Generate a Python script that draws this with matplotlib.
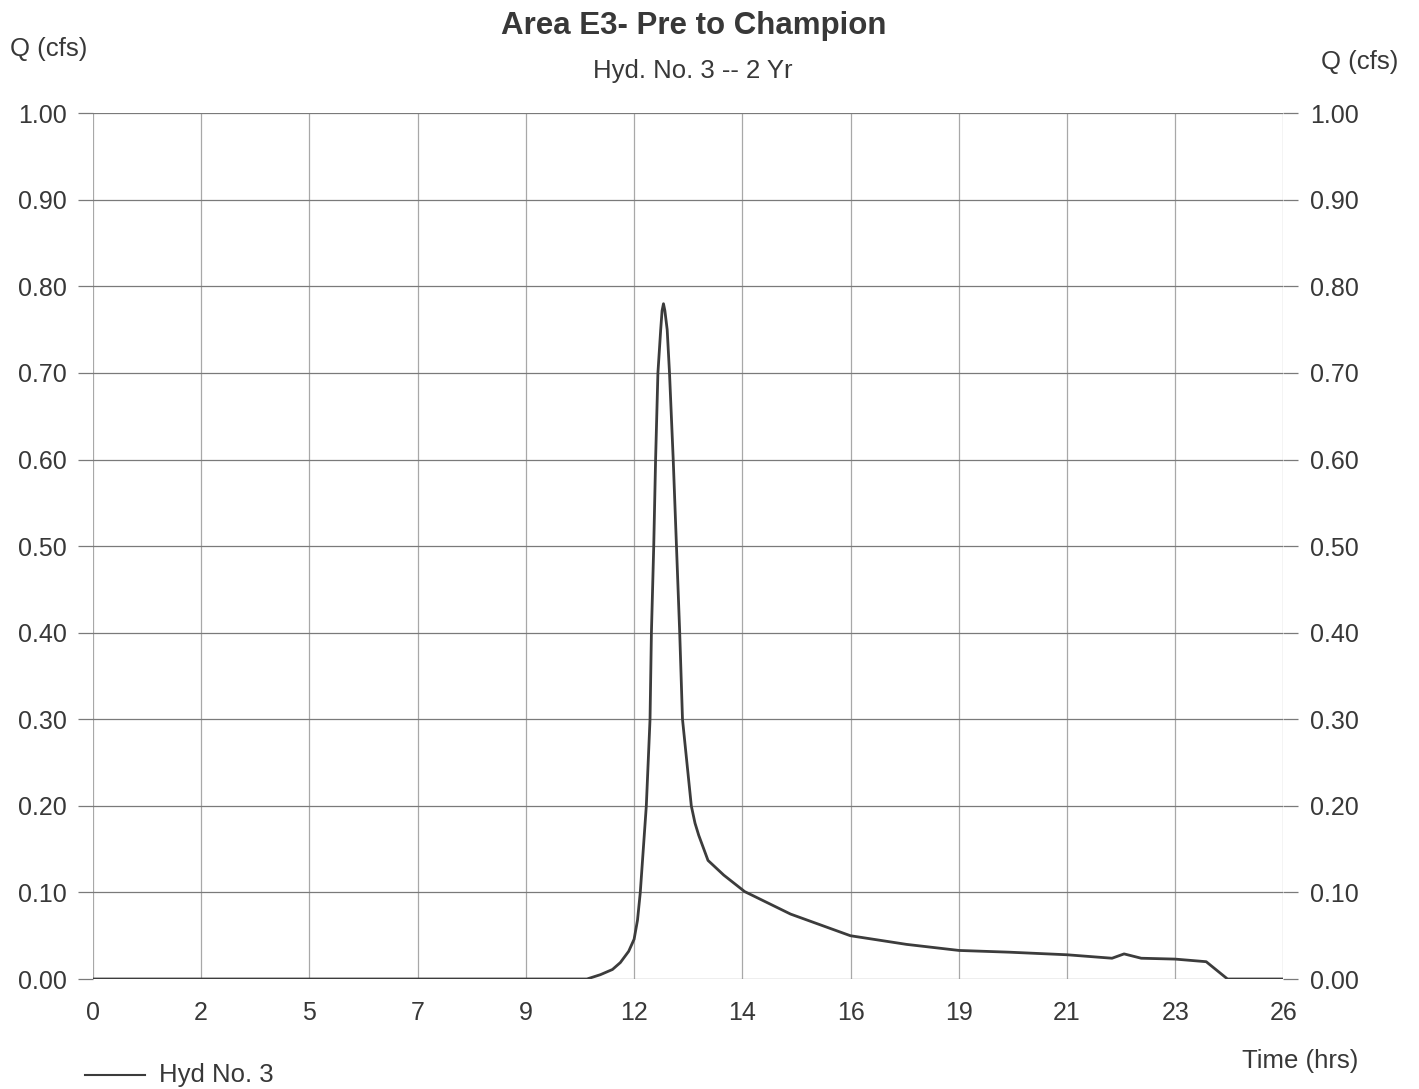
import matplotlib
matplotlib.use("Agg")
import matplotlib.pyplot as plt
from matplotlib.lines import Line2D

plt.rcParams["font.family"] = ["Liberation Sans", "DejaVu Sans"]

# hydrograph (hours, cfs)
time_hrs = [0.0, 10.65, 10.94, 11.2, 11.37, 11.55, 11.667, 11.74, 11.80,
            11.93, 12.01, 12.04, 12.09, 12.13, 12.18, 12.24, 12.27, 12.30,
            12.33, 12.38, 12.43, 12.51, 12.58, 12.65, 12.71, 12.90, 12.98,
            13.06, 13.26, 13.6, 14.05, 15.04, 16.33, 17.54, 18.67, 19.75,
            21.0, 21.97, 22.23, 22.6, 23.33, 24.0, 24.46, 25.67]
flow_cfs = [0.0, 0.0, 0.005, 0.011, 0.019, 0.032, 0.046, 0.068, 0.1,
            0.2, 0.3, 0.4, 0.5, 0.6, 0.7, 0.75, 0.772, 0.78,
            0.772, 0.75, 0.7, 0.6, 0.5, 0.4, 0.3, 0.2, 0.18,
            0.166, 0.137, 0.12, 0.101, 0.075, 0.05, 0.04, 0.033, 0.031,
            0.028, 0.024, 0.029, 0.024, 0.023, 0.02, 0.0, 0.0]

x_labels = ["0", "2", "5", "7", "9", "12", "14", "16", "19", "21", "23", "26"]
x_step = 7 / 3  # hrs between grid lines
y_ticks = [0.0, 0.1, 0.2, 0.3, 0.4, 0.5, 0.6, 0.7, 0.8, 0.9, 1.0]

GRID_H = "#7a7a7a"
GRID_V = "#a8a8a8"
LINE = "#3c3c3c"
TXT = "#383838"

fig = plt.figure(figsize=(14.19, 10.89), dpi=100)
ax = fig.add_axes([0.0655, 0.101, 0.839, 0.795])

ax.plot(time_hrs, flow_cfs, color=LINE, linewidth=2.0, zorder=3)

xt = [i * x_step for i in range(len(x_labels))]
ax.set_xlim(xt[0], xt[-1])
ax.set_ylim(0, 1.0)
ax.set_xticks(xt)
ax.set_xticklabels(x_labels)
ax.set_yticks(y_ticks)
ax.set_yticklabels([f"{v:.2f}" for v in y_ticks])

ax.grid(axis="y", color=GRID_H, linewidth=0.9)
ax.grid(axis="x", color=GRID_V, linewidth=0.9)
for s in ax.spines.values():
    s.set_visible(False)

ax.yaxis.set_ticks_position("both")
ax.tick_params(axis="y", length=11, width=0.9, color=GRID_H,
               labelsize=18, labelcolor=TXT, pad=8,
               labelleft=True, labelright=True)
ax.tick_params(axis="x", length=0, labelsize=18, labelcolor=TXT, pad=16)

fig.text(0.489, 0.976, "Area E3- Pre to Champion", ha="center", va="center",
         fontsize=22.5, fontweight="bold", color=TXT)
fig.text(0.488, 0.935, "Hyd. No. 3 -- 2 Yr", ha="center", va="center",
         fontsize=18.5, color=TXT)
fig.text(0.034, 0.955, "Q (cfs)", ha="center", va="center", fontsize=18.5,
         color=TXT)
fig.text(0.958, 0.943, "Q (cfs)", ha="center", va="center", fontsize=18.5,
         color=TXT)
fig.text(0.916, 0.026, "Time (hrs)", ha="center", va="center", fontsize=18.5,
         color=TXT)

fig.add_artist(Line2D([0.06, 0.102], [0.013, 0.013], transform=fig.transFigure,
                      color=LINE, linewidth=1.5))
fig.text(0.112, 0.013, "Hyd No. 3", ha="left", va="center", fontsize=18.5,
         color=TXT)

fig.savefig("out.png", dpi=100, facecolor="white")
